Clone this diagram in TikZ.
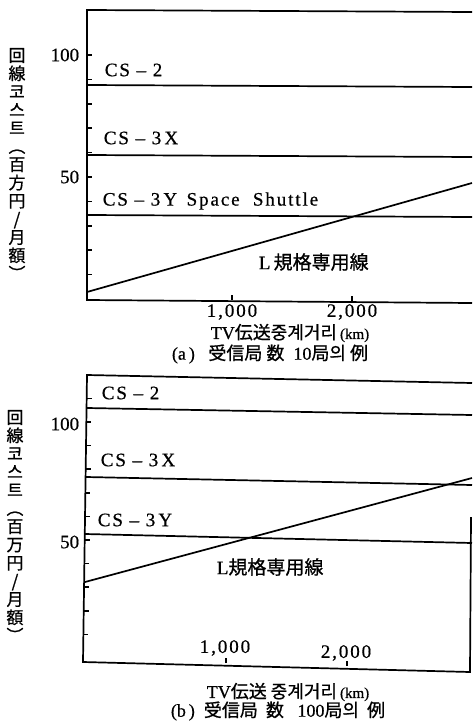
\documentclass[tikz,border=0pt]{standalone}
\usepackage{fontspec}
\setmainfont[FakeBold=0.6]{Liberation Serif}
\newfontfamily\cjk[FakeBold=0.8]{Noto Sans CJK JP}
\newfontfamily\spaced[LetterSpace=10, FakeBold=0.6]{Liberation Serif}
\newcommand{\csl}[1]{{\spaced CS – #1}}

\begin{document}
\begin{tikzpicture}[x=1pt, y=-1pt, line width=0.6mm,
    lbl/.style={inner sep=0pt, font=\fontsize{19}{19}\selectfont},
    capt/.style={inner sep=0pt, font=\fontsize{18}{18}\selectfont},
    vlbl/.style={inner sep=0pt, align=center, font=\fontsize{17}{18.2}\selectfont\cjk},
    tick/.style={line width=0.5mm}]
  \useasboundingbox (0,0) rectangle (472,723);

  % (a)
  \coordinate(aTL) at (87, 10);
  \coordinate(aTR) at (472, 12);
  \coordinate(aBL) at (87, 300);
  \coordinate(aBR) at (472, 303);
  \draw (aBR) -- (aBL) -- (aTL) -- (aTR);

  \foreach \v in {10,20,...,100}
    \draw[tick] (87, {299-2.44*\v}) -- ++(5,0);
  \draw[tick] (232, 300) -- ++(0,-5);
  \draw[tick] (352, 301) -- ++(0,-5);

  \coordinate(a2L) at (87, 85);   \coordinate(a2R) at (472, 87);
  \coordinate(aXL) at (87, 155);  \coordinate(aXR) at (472, 157);
  \coordinate(aYL) at (87, 215);  \coordinate(aYR) at (472, 217);
  \coordinate(aLL) at (87, 292);  \coordinate(aLR) at (472, 183);
  \draw (a2L) -- (a2R);
  \draw (aXL) -- (aXR);
  \draw (aYL) -- (aYR);
  \draw (aLL) -- (aLR);

  \node[lbl, anchor=east] (a100) at (80, 55)  {100};
  \node[lbl, anchor=east] (a50)  at (80, 177) {50};
  \node[lbl, anchor=west] (aCS2) at (104, 70)  {\csl{2}};
  \node[lbl, anchor=west] (aCSX) at (103, 138) {\csl{3\,X}};
  \node[lbl, anchor=west] (aCSY) at (102, 201) {\csl{3\,Y}\ \ {\spaced Space\ \ Shuttle}};
  \node[lbl, anchor=west] (aL)   at (258, 262) {L\,{\cjk 規格専用線}};
  \node[lbl] (a1k) at (232, 312) {\spaced 1,000};
  \node[lbl] (a2k) at (352, 312) {\spaced 2,000};
  \node[capt] (aXt) at (290, 333) {TV{\cjk 伝送중계거리}\,{\fontsize{15}{15}\selectfont(km)}};
  \node[capt] (aCap) at (270, 354) {(a\,)\ \ \ {\cjk 受信局\ 数}\ \ 10{\cjk 局의\ 例}};
  \node[vlbl] (aY) at (17, 164)
    {回\\線\\코\\스\\트\\︵\\百\\方\\円\\/\\月\\額\\︶};

  % (b)
  \coordinate(bTL) at (87, 375);
  \coordinate(bTR) at (472, 383);
  \coordinate(bBL) at (83, 662);
  \coordinate(bBR) at (470, 672);
  \coordinate(bRR) at (471, 517);
  \draw (bRR) -- (bBR) -- (bBL) -- (bTL) -- (bTR);

  \foreach \v in {10,20,...,110}
    \draw[tick] ({83+0.0139*(4+2.36*\v)}, {658-2.36*\v}) -- ++(5,0);
  \draw[tick] (226, 663) -- ++(0,-5);
  \draw[tick] (347, 666) -- ++(0,-5);

  \coordinate(b2L) at (87, 408);  \coordinate(b2R) at (472, 415);
  \coordinate(bXL) at (86, 477);  \coordinate(bXR) at (472, 485);
  \coordinate(bYL) at (85, 534);  \coordinate(bYR) at (472, 543);
  \coordinate(bLL) at (85, 582);  \coordinate(bLR) at (472, 478);
  \draw (b2L) -- (b2R);
  \draw (bXL) -- (bXR);
  \draw (bYL) -- (bYR);
  \draw (bLL) -- (bLR);

  \node[lbl, anchor=east] (b100) at (80, 424) {100};
  \node[lbl, anchor=east] (b50)  at (80, 542) {50};
  \node[lbl, anchor=west] (bCS2) at (101, 393) {\csl{2}};
  \node[lbl, anchor=west] (bCSX) at (100, 460) {\csl{3\,X}};
  \node[lbl, anchor=west] (bCSY) at (97, 520)  {\csl{3\,Y}};
  \node[lbl, anchor=west] (bL)   at (216, 567) {L{\cjk 規格専用線}};
  \node[lbl] (b1k) at (225, 648) {\spaced 1,000};
  \node[lbl] (b2k) at (346, 653) {\spaced 2,000};
  \node[capt] (bXt) at (288, 692) {TV{\cjk 伝送\ 중계거리}\,{\fontsize{15}{15}\selectfont(km)}};
  \node[capt] (bCap) at (278, 711) {(b\,)\ \ {\cjk 受信局\ \ 数}\ \ \ 100{\cjk 局의\ \ 例}};
  \node[vlbl] (bY) at (15, 526)
    {回\\線\\코\\스\\트\\︵\\百\\万\\円\\/\\月\\額\\︶};
\end{tikzpicture}
\end{document}
